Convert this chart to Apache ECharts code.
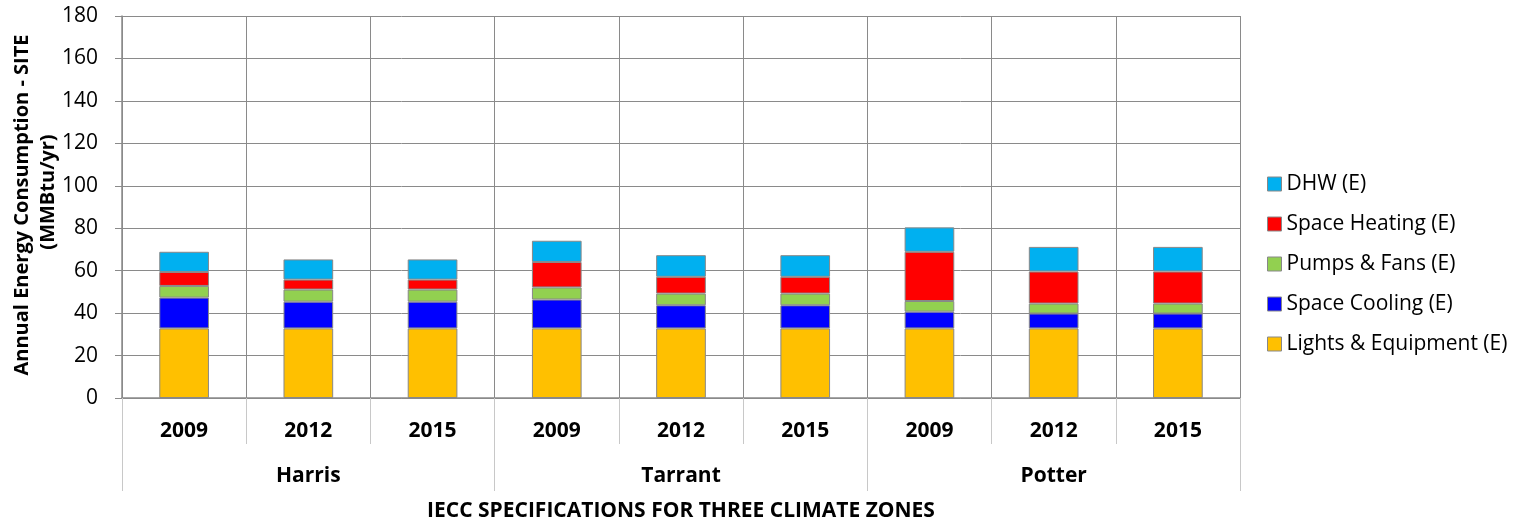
<!DOCTYPE html>
<html>
<head>
<meta charset="utf-8">
<script src="https://cdn.jsdelivr.net/npm/echarts@6/dist/echarts.min.js"></script>
<style>
html,body{margin:0;padding:0;background:#fff;}
#chart{width:1520px;height:522px;}
</style>
</head>
<body>
<div id="chart"></div>
<script>
// ---- data ----
const groups = ["Harris", "Tarrant", "Potter"];
const years = ["2009", "2012", "2015"];
const categories = ["Harris|2009","Harris|2012","Harris|2015","Tarrant|2009","Tarrant|2012","Tarrant|2015","Potter|2009","Potter|2012","Potter|2015"];
const lightsEquipment = [32.8, 32.8, 32.8, 32.8, 32.8, 32.8, 32.8, 32.8, 32.8];
const spaceCooling    = [14.5, 12.6, 12.6, 13.6, 10.9, 10.9, 7.9, 7.0, 7.0];
const pumpsFans       = [5.5, 5.7, 5.7, 5.7, 5.5, 5.5, 5.0, 4.7, 4.7];
const spaceHeating    = [6.6, 4.7, 4.7, 12.0, 7.9, 7.9, 23.2, 15.1, 15.1];
const dhw             = [9.5, 9.5, 9.5, 10.0, 10.2, 10.2, 11.5, 11.6, 11.6];
const yTicks = { min: 0, max: 180, interval: 20 };

const FONT = "Open Sans";
const GRID_COLOR = "#8a8a8a";
const chart = echarts.init(document.getElementById("chart"), null, { renderer: "canvas" });

function bar(name, data, color) {
  return {
    name: name,
    type: "bar",
    stack: "total",
    data: data,
    barWidth: "40%",
    xAxisIndex: 0,
    itemStyle: { color: color, borderColor: "#888888", borderWidth: 1 }
  };
}

const option = {
  animation: false,
  backgroundColor: "#ffffff",
  textStyle: { fontFamily: FONT, color: "#000" },
  grid: { left: 122, right: 280, top: 16, bottom: 124, containLabel: false, outerBoundsMode: "none" },
  legend: {
    orient: "vertical",
    left: 1262,
    top: 168,
    itemWidth: 14,
    itemHeight: 14,
    itemGap: 18,
    icon: "rect",
    itemStyle: { borderColor: "#888888", borderWidth: 1 },
    textStyle: { fontFamily: FONT, fontSize: 21, lineHeight: 22, color: "#000" },
    data: ["DHW (E)", "Space Heating (E)", "Pumps & Fans (E)", "Space Cooling (E)", "Lights & Equipment (E)"]
  },
  xAxis: [
    {
      type: "category",
      data: categories,
      position: "bottom",
      boundaryGap: true,
      axisLine: { show: true, lineStyle: { color: GRID_COLOR, width: 1.5 } },
      axisTick: { show: true, interval: 0, length: 46, lineStyle: { color: "#c8c8c8" } },
      splitLine: { show: true, interval: 0, lineStyle: { color: GRID_COLOR, width: 1 } },
      axisLabel: {
        interval: 0, margin: 23, fontFamily: FONT, fontSize: 21, fontWeight: "bold", color: "#000",
        formatter: v => v.split("|")[1]
      }
    },
    {
      type: "category",
      data: groups,
      position: "bottom",
      boundaryGap: true,
      axisLine: { show: false },
      axisTick: { show: true, interval: 0, length: 93, lineStyle: { color: "#c8c8c8" } },
      splitLine: { show: false },
      axisLabel: { interval: 0, margin: 68, fontFamily: FONT, fontSize: 21, fontWeight: "bold", color: "#000" },
      name: "IECC SPECIFICATIONS FOR THREE CLIMATE ZONES",
      nameLocation: "middle",
      nameGap: 103,
      nameTextStyle: { fontFamily: FONT, fontSize: 21, fontWeight: "bold", color: "#000" }
    }
  ],
  yAxis: {
    type: "value",
    min: yTicks.min,
    max: yTicks.max,
    interval: yTicks.interval,
    axisLine: { show: true, lineStyle: { color: GRID_COLOR, width: 1.5 } },
    axisTick: { show: true, length: 7, lineStyle: { color: GRID_COLOR } },
    splitLine: { show: true, lineStyle: { color: GRID_COLOR, width: 1 } },
    axisLabel: { margin: 24, fontFamily: FONT, fontSize: 21, color: "#000" }
  },
  graphic: [
    {
      type: "text",
      x: 22, y: 205,
      rotation: Math.PI / 2,
      style: {
        text: "Annual Energy Consumption - SITE",
        font: "bold 20px '" + FONT + "'",
        fill: "#000",
        textAlign: "center",
        textVerticalAlign: "middle"
      }
    },
    {
      type: "text",
      x: 48, y: 192,
      rotation: Math.PI / 2,
      style: {
        text: "(MMBtu/yr)",
        font: "bold 20px '" + FONT + "'",
        fill: "#000",
        textAlign: "center",
        textVerticalAlign: "middle"
      }
    }
  ],
  series: [
    bar("Lights & Equipment (E)", lightsEquipment, "#FFC000"),
    bar("Space Cooling (E)", spaceCooling, "#0000FF"),
    bar("Pumps & Fans (E)", pumpsFans, "#92D050"),
    bar("Space Heating (E)", spaceHeating, "#FF0000"),
    bar("DHW (E)", dhw, "#00B0F0")
  ]
};
chart.setOption(option);
</script>
</body>
</html>
